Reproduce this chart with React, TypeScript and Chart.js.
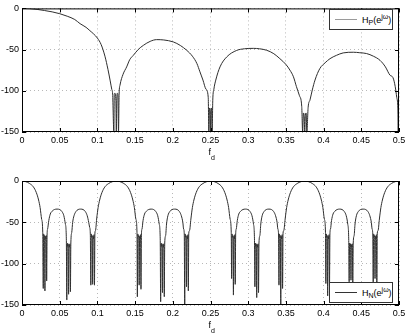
import React, { useEffect, useRef } from "react";
import { Chart, registerables } from "chart.js";

Chart.register(...registerables);

// Tick labels
const xTicks = [0, 0.05, 0.1, 0.15, 0.2, 0.25, 0.3, 0.35, 0.4, 0.45, 0.5];
const yTicks = [-150, -100, -50, 0];

// Top panel: H_P(e^{jω}) in dB vs f_d
const hpFreq = [
  0, 0.01, 0.02, 0.03, 0.04, 0.05, 0.06, 0.07, 0.077, 0.085, 0.09, 0.095, 0.1, 0.105, 0.11, 0.114, 0.117, 0.119, 0.1202,
  0.1218, 0.1224, 0.1233, 0.1245, 0.1251, 0.1257, 0.1264, 0.1272, 0.128, 0.1288,
  0.13, 0.134, 0.1388, 0.143, 0.1476, 0.154, 0.161, 0.17, 0.1786, 0.188, 0.2007, 0.21, 0.2184, 0.226, 0.232, 0.236, 0.24, 0.244, 0.247,
  0.2478, 0.2486, 0.2494, 0.25, 0.2506, 0.2514, 0.2522, 0.253,
  0.2545, 0.257, 0.2626, 0.2714, 0.2847, 0.295, 0.3068, 0.315, 0.3245, 0.334, 0.342, 0.35, 0.3554, 0.36, 0.364, 0.368, 0.371,
  0.3722, 0.3732, 0.3742, 0.375, 0.3758, 0.3768, 0.3778, 0.3795,
  0.382, 0.385, 0.3886, 0.395, 0.402, 0.4085, 0.417, 0.426, 0.4394, 0.448, 0.457, 0.466, 0.4748, 0.482, 0.488, 0.492, 0.495, 0.497, 0.4985,
  0.499, 0.4995, 0.5,
];
const hpMag = [
  0, -0.3, -1.2, -2.6, -4.2, -6.4, -9.5, -13.5, -18.5, -23, -27, -31, -36, -44, -58, -74, -88, -98, -104,
  -150, -104, -103, -112, -150, -112, -103, -104, -150, -104,
  -93, -80, -71, -62, -57, -50, -44.8, -40, -37.9, -38.3, -40.7, -45, -50.8, -58, -67, -77, -87, -98, -108,
  -150, -121, -124, -150, -124, -121, -150, -112,
  -98, -87, -71, -59, -51, -49, -48.5, -49, -50.8, -55, -61, -68, -75, -83, -95, -106, -119,
  -150, -127, -130, -150, -130, -127, -150, -120,
  -111, -99, -87, -73, -66, -61, -57, -54, -53.2, -53.8, -54.8, -58, -63, -71, -81, -84, -95, -108, -122,
  -150, -129, -135,
];

// Bottom panel: H_N(e^{jω}) in dB vs f_d
const hnFreq = [
  0, 0.005, 0.01, 0.015, 0.019, 0.022, 0.024, 0.026, 0.0275,
  0.0282, 0.0287, 0.0293, 0.0299, 0.0304, 0.031, 0.0316, 0.0322, 0.0327, 0.0333, 0.034,
  0.0355, 0.0375, 0.04, 0.043, 0.0465, 0.05, 0.053, 0.0555, 0.0575, 0.0588,
  0.0594, 0.06, 0.0606, 0.0612, 0.0618, 0.0624, 0.063, 0.0636, 0.0642, 0.0648, 0.066,
  0.0672, 0.069, 0.0715, 0.0745, 0.0778, 0.081, 0.084, 0.0865, 0.0885, 0.0897, 0.0906,
  0.0913, 0.0919, 0.0925, 0.0931, 0.0937, 0.0943, 0.0949, 0.0955, 0.0961, 0.0967, 0.0975,
  0.099, 0.101, 0.103, 0.106, 0.11, 0.115, 0.12, 0.125,
  0.13, 0.135, 0.14, 0.144, 0.147, 0.149, 0.151, 0.1525,
  0.153, 0.1536, 0.1542, 0.1548, 0.1554, 0.156, 0.1566, 0.1572, 0.1578, 0.1584, 0.1592,
  0.1605, 0.1625, 0.165, 0.168, 0.1713, 0.1745, 0.1775, 0.18, 0.182, 0.1833,
  0.1839, 0.1845, 0.1851, 0.1857, 0.1863, 0.1869, 0.1875, 0.1881, 0.1887, 0.1893, 0.1905,
  0.1917, 0.1935, 0.196, 0.199, 0.2025, 0.2058, 0.2088, 0.2113, 0.2133, 0.2143, 0.2152,
  0.2158, 0.2164, 0.217, 0.2176, 0.2182, 0.2188, 0.2194, 0.22, 0.2206, 0.2212, 0.2222,
  0.224, 0.226, 0.228, 0.231, 0.235, 0.24, 0.245, 0.25,
  0.255, 0.26, 0.265, 0.269, 0.272, 0.274, 0.276, 0.2775,
  0.278, 0.2786, 0.2792, 0.2798, 0.2804, 0.281, 0.2816, 0.2822, 0.2828, 0.2834, 0.2842,
  0.2855, 0.2875, 0.29, 0.293, 0.2963, 0.2995, 0.3025, 0.305, 0.307, 0.3083,
  0.3089, 0.3095, 0.3101, 0.3107, 0.3113, 0.3119, 0.3125, 0.3131, 0.3137, 0.3143, 0.3155,
  0.3167, 0.3185, 0.321, 0.324, 0.3275, 0.3308, 0.3338, 0.3363, 0.3383, 0.3393, 0.3402,
  0.3408, 0.3414, 0.342, 0.3426, 0.3432, 0.3438, 0.3444, 0.345, 0.3456, 0.3462, 0.3472,
  0.349, 0.351, 0.353, 0.356, 0.36, 0.365, 0.37, 0.375,
  0.38, 0.385, 0.39, 0.394, 0.397, 0.399, 0.401, 0.4025,
  0.403, 0.4036, 0.4042, 0.4048, 0.4054, 0.406, 0.4066, 0.4072, 0.4078, 0.4084, 0.4092,
  0.4105, 0.4125, 0.415, 0.418, 0.4213, 0.4245, 0.4275, 0.43, 0.432, 0.4333,
  0.4339, 0.4345, 0.4351, 0.4357, 0.4363, 0.4369, 0.4375, 0.4381, 0.4387, 0.4393, 0.4405,
  0.4417, 0.4435, 0.446, 0.449, 0.4525, 0.4558, 0.4588, 0.4613, 0.4633, 0.4643, 0.4652,
  0.4658, 0.4664, 0.467, 0.4676, 0.4682, 0.4688, 0.4694, 0.47, 0.4706, 0.4712, 0.4722,
  0.474, 0.476, 0.478, 0.481, 0.485, 0.49, 0.495, 0.5,
];
const hnMag = [
  0, -0.8, -3, -7, -14, -23, -32, -46, -62,
  -130, -64, -68, -66, -133, -67, -70, -66, -121, -64, -58,
  -48, -40, -36.5, -34.5, -34, -34.5, -37, -42, -52, -70,
  -144, -75, -79, -76, -137, -77, -80, -76, -134, -75, -62,
  -50, -42, -37, -34.5, -34, -34.5, -37, -42, -50, -56, -64,
  -126, -64, -68, -66, -125, -67, -70, -65, -126, -63, -60,
  -46, -32, -23, -14, -7, -3, -0.8, 0,
  -0.8, -3, -7, -14, -23, -32, -46, -62,
  -140, -64, -68, -66, -126, -67, -70, -65, -131, -64, -58,
  -48, -40, -36.5, -34.5, -34, -34.5, -37, -42, -52, -70,
  -146, -75, -79, -76, -135, -77, -80, -76, -140, -75, -66,
  -52, -42, -37, -34.5, -34, -34.5, -37, -42, -50, -58, -64,
  -150, -64, -68, -66, -128, -67, -70, -65, -133, -63, -60,
  -46, -32, -23, -14, -7, -3, -0.8, 0,
  -0.8, -3, -7, -14, -23, -32, -46, -62,
  -118, -64, -68, -66, -138, -67, -70, -65, -125, -64, -58,
  -48, -40, -36.5, -34.5, -34, -34.5, -37, -42, -52, -70,
  -128, -75, -79, -76, -141, -77, -80, -76, -135, -75, -66,
  -52, -42, -37, -34.5, -34, -34.5, -37, -42, -50, -58, -64,
  -126, -64, -68, -66, -150, -67, -70, -65, -130, -63, -60,
  -46, -32, -23, -14, -7, -3, -0.8, 0,
  -0.8, -3, -7, -14, -23, -32, -46, -62,
  -124, -64, -68, -66, -139, -67, -70, -65, -128, -64, -58,
  -48, -40, -36.5, -34.5, -34, -34.5, -37, -42, -52, -70,
  -122, -75, -79, -76, -120, -77, -80, -76, -125, -75, -66,
  -52, -42, -37, -34.5, -34, -34.5, -37, -42, -50, -58, -64,
  -124, -64, -68, -66, -118, -67, -70, -65, -126, -63, -60,
  -46, -32, -23, -14, -7, -3, -0.8, 0,
];

const FONT = "'Liberation Sans', Arial, Helvetica, sans-serif";

const frameTicks = {
  id: "frameTicks",
  afterDatasetsDraw(chart: any) {
    const { ctx, chartArea: a, scales } = chart;
    ctx.save();
    ctx.strokeStyle = "#000";
    ctx.lineWidth = 1;
    ctx.beginPath();
    xTicks.forEach((v) => {
      const x = Math.round(scales.x.getPixelForValue(v)) + 0.5;
      ctx.moveTo(x, a.bottom);
      ctx.lineTo(x, a.bottom - 4);
      ctx.moveTo(x, a.top);
      ctx.lineTo(x, a.top + 4);
    });
    yTicks.forEach((v) => {
      const y = Math.round(scales.y.getPixelForValue(v)) + 0.5;
      ctx.moveTo(a.left, y);
      ctx.lineTo(a.left + 4, y);
      ctx.moveTo(a.right, y);
      ctx.lineTo(a.right - 4, y);
    });
    ctx.stroke();
    ctx.strokeRect(a.left + 0.5, a.top + 0.5, a.right - a.left - 1, a.bottom - a.top - 1);
    ctx.restore();
  },
};

type PanelProps = {
  freq: number[];
  mag: number[];
  label: string;
  top: number;
  height: number;
  padTop: number;
  xAxisH: number;
};

function Panel({ freq, mag, label, top, height, padTop, xAxisH }: PanelProps) {
  const ref = useRef<HTMLCanvasElement>(null);
  useEffect(() => {
    if (!ref.current) return;
    const tickFont = { family: FONT, size: 9 };
    const chart = new Chart(ref.current, {
      type: "line",
      data: {
        datasets: [
          {
            label,
            data: freq.map((f, i) => ({ x: f, y: mag[i] })),
            borderColor: "#2e2e2e",
            borderWidth: 1,
            pointRadius: 0,
            fill: false,
            cubicInterpolationMode: "monotone",
          },
        ],
      },
      options: {
        animation: false,
        responsive: false,
        maintainAspectRatio: false,
        events: [],
        layout: { padding: { top: padTop, right: 10, left: 0, bottom: 0 } },
        plugins: { legend: { display: false }, tooltip: { enabled: false } },
        scales: {
          x: {
            type: "linear",
            min: 0,
            max: 0.5,
            afterBuildTicks: (s: any) => {
              s.ticks = xTicks.map((v) => ({ value: v }));
            },
            afterFit: (s: any) => {
              s.height = xAxisH;
            },
            ticks: {
              autoSkip: false,
              maxRotation: 0,
              padding: 3,
              color: "#000",
              font: tickFont,
              callback: (v: any) => String(v),
            },
            grid: { color: "#b8b8b8", lineWidth: 1, drawTicks: false },
            border: { display: false, dash: [1, 3] },
          },
          y: {
            type: "linear",
            min: -150,
            max: 0,
            afterBuildTicks: (s: any) => {
              s.ticks = yTicks.map((v) => ({ value: v }));
            },
            afterFit: (s: any) => {
              s.width = 22;
            },
            ticks: {
              padding: 3,
              color: "#000",
              font: tickFont,
              callback: (v: any) => String(v),
            },
            grid: { color: "#b8b8b8", lineWidth: 1, drawTicks: false },
            border: { display: false, dash: [1, 3] },
          },
        },
      } as any,
      plugins: [frameTicks],
    });
    return () => chart.destroy();
  }, []);
  return (
    <canvas
      ref={ref}
      width={409}
      height={height}
      style={{ position: "absolute", left: 0, top, width: 409, height }}
    />
  );
}

const subStyle: React.CSSProperties = { fontSize: 7, position: "relative", top: 2.5 };
const supStyle: React.CSSProperties = { fontSize: 7, position: "relative", top: -3.5 };

function Legend({ top, sub, lineColor }: { top: number; sub: string; lineColor: string }) {
  return (
    <div
      style={{
        position: "absolute",
        left: 329,
        top,
        width: 64,
        height: 21,
        boxSizing: "border-box",
        border: "1px solid #333",
        background: "#fff",
        fontFamily: FONT,
        fontSize: 9,
        color: "#000",
      }}
    >
      <div style={{ position: "absolute", left: 5, top: 9, width: 22, height: 1, background: lineColor }} />
      <span style={{ position: "absolute", left: 32, top: 4.5, lineHeight: "10px", whiteSpace: "nowrap" }}>
        H<span style={subStyle}>{sub}</span>(e<span style={supStyle}>jω</span>)
      </span>
    </div>
  );
}

function AxisTitle({ top }: { top: number }) {
  return (
    <div style={{ position: "absolute", left: 208.5, top, fontFamily: FONT, color: "#000", whiteSpace: "nowrap" }}>
      <span style={{ fontSize: 9, lineHeight: "10px" }}>f</span>
      <span style={{ fontSize: 7, lineHeight: "8px", position: "relative", top: 5 }}>d</span>
    </div>
  );
}

export default function App() {
  return (
    <div style={{ position: "fixed", left: 0, top: 0, width: 409, height: 334, background: "#fff", overflow: "hidden" }}>
      <Panel freq={hpFreq} mag={hpMag} label="H_P(e^{jω})" top={0} height={160} padTop={8} xAxisH={28} />
      <Panel freq={hnFreq} mag={hnMag} label="H_N(e^{jω})" top={170} height={164} padTop={11} xAxisH={29} />
      <AxisTitle top={141} />
      <AxisTitle top={314} />
      <Legend top={9} sub="P" lineColor="#9a9a9a" />
      <Legend top={282} sub="N" lineColor="#333" />
    </div>
  );
}
